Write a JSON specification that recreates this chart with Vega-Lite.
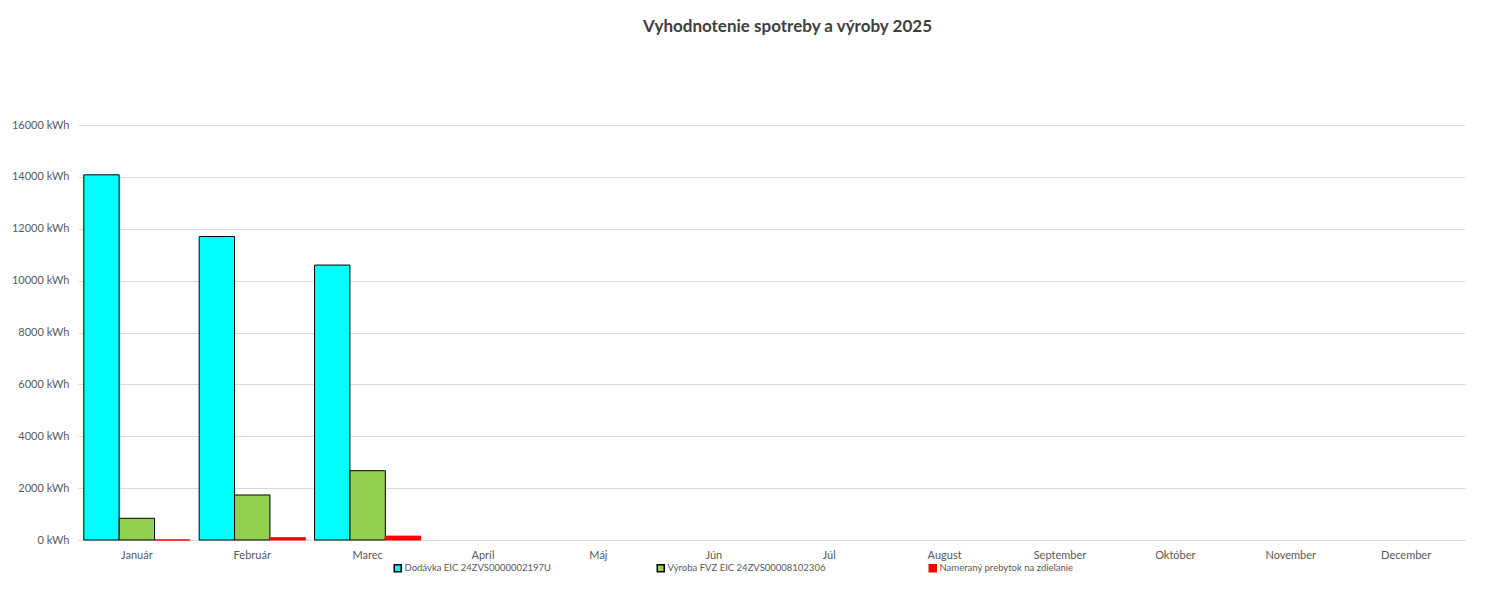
{
  "$schema": "https://vega.github.io/schema/vega-lite/v6.json",
  "width": 1387,
  "height": 415,
  "autosize": {"type": "none"},
  "padding": {"left": 78, "top": 125, "right": 33, "bottom": 56},
  "background": "white",
  "title": {
    "text": "Vyhodnotenie spotreby a výroby 2025",
    "font": "Lato",
    "fontSize": 17,
    "fontWeight": "bold",
    "color": "#404040",
    "anchor": "middle",
    "dx": 16,
    "offset": 83
  },
  "data": {
    "values": [
      {"mesiac": "Január", "seria": "Dodávka  EIC 24ZVS0000002197U", "kwh": 14080},
      {"mesiac": "Január", "seria": "Výroba FVZ EIC 24ZVS00008102306", "kwh": 837},
      {"mesiac": "Január", "seria": "Nameraný prebytok na zdieľanie", "kwh": 2},
      {"mesiac": "Február", "seria": "Dodávka  EIC 24ZVS0000002197U", "kwh": 11700},
      {"mesiac": "Február", "seria": "Výroba FVZ EIC 24ZVS00008102306", "kwh": 1735},
      {"mesiac": "Február", "seria": "Nameraný prebytok na zdieľanie", "kwh": 90},
      {"mesiac": "Marec", "seria": "Dodávka  EIC 24ZVS0000002197U", "kwh": 10600},
      {"mesiac": "Marec", "seria": "Výroba FVZ EIC 24ZVS00008102306", "kwh": 2672},
      {"mesiac": "Marec", "seria": "Nameraný prebytok na zdieľanie", "kwh": 150}
    ]
  },
  "mark": {"type": "bar", "strokeWidth": 1},
  "encoding": {
    "x": {
      "field": "mesiac",
      "type": "nominal",
      "title": null,
      "scale": {
        "domain": ["Január", "Február", "Marec", "Apríl", "Máj", "Jún", "Júl", "August", "September", "Október", "November", "December"],
        "paddingInner": 0.08,
        "paddingOuter": 0.05
      },
      "axis": {
        "labelAngle": 0,
        "labelFont": "Lato",
        "labelFontSize": 11,
        "labelColor": "#595959",
        "labelPadding": 9,
        "ticks": false,
        "domainColor": "#d9d9d9",
        "grid": false
      }
    },
    "xOffset": {
      "field": "seria",
      "type": "nominal",
      "scale": {
        "domain": ["Dodávka  EIC 24ZVS0000002197U", "Výroba FVZ EIC 24ZVS00008102306", "Nameraný prebytok na zdieľanie"],
        "paddingInner": 0,
        "paddingOuter": 0
      }
    },
    "y": {
      "field": "kwh",
      "type": "quantitative",
      "title": null,
      "scale": {"domain": [0, 16000], "nice": false},
      "axis": {
        "values": [0, 2000, 4000, 6000, 8000, 10000, 12000, 14000, 16000],
        "labelExpr": "datum.value + ' kWh'",
        "labelFont": "Lato",
        "labelFontSize": 11,
        "labelColor": "#595959",
        "labelPadding": 9,
        "ticks": false,
        "domain": false,
        "gridColor": "#d9d9d9",
        "gridWidth": 1
      }
    },
    "color": {
      "field": "seria",
      "type": "nominal",
      "title": null,
      "scale": {
        "domain": ["Dodávka  EIC 24ZVS0000002197U", "Výroba FVZ EIC 24ZVS00008102306", "Nameraný prebytok na zdieľanie"],
        "range": ["#00FFFF", "#92D050", "#FF0000"]
      },
      "legend": {
        "orient": "none",
        "legendX": 315,
        "legendY": 438,
        "direction": "horizontal",
        "columns": 3,
        "columnPadding": 100,
        "symbolType": "square",
        "symbolSize": 49,
        "symbolOffset": 0,
        "labelOffset": 2,
        "labelFont": "Lato",
        "labelFontSize": 9.5,
        "labelColor": "#595959",
        "labelLimit": 300
      }
    },
    "stroke": {
      "field": "seria",
      "type": "nominal",
      "title": null,
      "scale": {
        "domain": ["Dodávka  EIC 24ZVS0000002197U", "Výroba FVZ EIC 24ZVS00008102306", "Nameraný prebytok na zdieľanie"],
        "range": ["#000000", "#000000", "#FF0000"]
      }
    }
  },
  "config": {
    "view": {"stroke": null}
  }
}
